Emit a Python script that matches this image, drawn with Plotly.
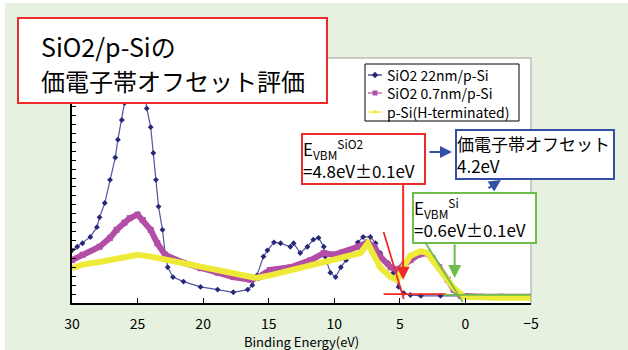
import plotly.graph_objects as go

# ---- data (binding energy in eV, intensity in arbitrary units) ----
e_22nm = [30.0, 29.6, 29.2, 28.6, 28.1, 27.9, 27.5, 27.1, 26.7, 26.5, 26.2, 26.0, 25.72, 25.5, 25.3, 25.1,
          24.9, 24.65, 24.4, 24.3, 24.0, 23.8, 23.6, 23.4, 23.1, 22.9, 22.7, 22.3, 21.5, 20.2, 18.9, 17.7,
          16.6, 16.25, 15.9, 15.4, 15.1, 14.6, 14.1, 13.35, 13.1, 12.6, 12.05, 11.6, 11.2, 10.8, 10.7, 10.3,
          9.9, 9.5, 9.1, 8.75, 8.2, 7.8, 7.25, 6.85, 6.5, 5.9, 5.5, 5.1, 4.7, 4.2, 3.4, 1.9, 0.35, -1.2,
          -2.7, -4.2, -5.0]
i_22nm = [5.9, 6.3, 6.7, 7.4, 8.5, 9.6, 11.2, 13.8, 16.3, 18.3, 20.5, 22.4, 23.1, 25.5, 28.9, 30.6,
          28.9, 26.1, 23.3, 21.8, 19.7, 16.8, 13.8, 10.8, 8.2, 5.6, 4.0, 2.9, 2.4, 1.8, 1.5, 1.2,
          1.5, 2.0, 3.1, 5.2, 5.9, 6.8, 6.7, 6.3, 6.7, 5.6, 6.3, 7.1, 7.3, 6.3, 5.2, 3.4,
          2.9, 4.0, 4.8, 5.9, 6.8, 7.4, 7.4, 6.7, 5.6, 4.5, 3.4, 1.8, 1.1, 0.9, 0.8, 0.8, 0.8, 0.7,
          0.7, 0.7, 0.7]

e_07nm = [30.0, 29.2, 27.9, 27.1, 26.6, 26.0, 25.6, 25.0, 24.6, 24.0, 23.5, 22.9, 21.5, 20.2, 18.9, 17.7,
          16.4, 15.9, 14.9, 13.35, 11.8, 10.8, 10.05, 9.3, 8.2, 7.45, 7.0, 6.5, 5.7, 5.2, 4.7, 4.2,
          3.6, 3.0, 2.5, 2.0, 1.35, 0.9, 0.35, -1.2, -2.7, -5.0]
i_07nm = [4.8, 5.4, 6.3, 7.3, 8.2, 9.0, 9.5, 9.9, 9.3, 8.2, 6.7, 5.4, 4.5, 3.9, 3.4, 2.9,
          2.6, 2.8, 3.7, 4.0, 4.8, 5.6, 5.4, 5.7, 6.3, 6.8, 6.3, 5.2, 4.0, 3.7, 4.3, 4.8,
          5.4, 5.6, 5.0, 4.0, 2.6, 1.5, 0.8, 0.7, 0.7, 0.7]

e_hterm = [30.0, 29.2, 27.9, 26.6, 25.0, 24.0, 22.7, 21.5, 20.2, 18.9, 17.7, 16.4, 15.9, 14.9, 13.35, 11.8,
           10.5, 9.3, 8.0, 7.45, 7.1, 6.5, 5.7, 5.2, 4.7, 4.2, 3.4, 2.9, 2.4, 1.65, 0.9, 0.1, -1.2, -2.7, -5.0]
i_hterm = [3.9, 4.3, 4.6, 5.0, 5.4, 5.2, 4.8, 4.5, 4.0, 3.7, 3.4, 2.9, 2.8, 3.1, 3.7, 4.3,
           4.8, 5.2, 5.6, 6.7, 5.6, 4.0, 2.9, 2.6, 4.1, 5.3, 5.8, 5.6, 4.6, 3.1, 1.7, 0.7, 0.6, 0.6, 0.6]

series_names = ["SiO2 22nm/p-Si", "SiO2 0.7nm/p-Si", "p-Si(H-terminated)"]

# tangent / baseline construction lines (eV, intensity)
red_tangent_e = [6.24, 4.7]
red_tangent_i = [7.95, 0.45]
red_base_e = [6.24, 1.5]
red_base_i = [1.0, 1.0]
green_tangent_e = [3.03, 0.2]
green_tangent_i = [6.7, 0.1]
green_base_e = [1.65, -5.0]
green_base_i = [0.9, 0.9]

vbm_sio2_arrow = (4.75, 2.6)
vbm_si_arrow = (0.82, 2.8)

x_ticks = [30, 25, 20, 15, 10, 5, 0, -5]

FONT = "Noto Sans CJK JP"
NAVY = "#27287a"
MAGENTA = "#b24ea6"
YELLOW = "#eeea38"
RED = "#ee2a2a"
GREEN = "#6cbd4a"
BLUE = "#3450a4"

# page layout: body offset (thin white strip at top/left), plot area in page pixels
OX, OY = 5, 3
PAGE_W, PAGE_H = 628, 350
PL, PR, PT, PB = 72, 531, 58, 303
W, H = PAGE_W - OX, PAGE_H - OY
L, T = PL - OX, PT - OY
R, B = W - (PR - OX), H - (PB - OY)
PW, PH = PR - PL, PB - PT


def px(x):
    return (x - PL) / PW


def py(y):
    return (PB - y) / PH


fig = go.Figure()

fig.add_trace(go.Scatter(x=e_22nm, y=i_22nm, mode="lines+markers", showlegend=False,
                         line=dict(color="#5555a0", width=1.2),
                         marker=dict(symbol="diamond", size=4.5, color=NAVY)))
fig.add_trace(go.Scatter(x=e_07nm, y=i_07nm, mode="lines+markers", showlegend=False,
                         line=dict(color=MAGENTA, width=6),
                         marker=dict(symbol="square", size=6, color=MAGENTA)))
fig.add_trace(go.Scatter(x=e_hterm, y=i_hterm, mode="lines+markers", showlegend=False,
                         line=dict(color=YELLOW, width=6),
                         marker=dict(symbol="triangle-up", size=6, color=YELLOW)))

# construction lines
for xs, ys, col in [(red_tangent_e, red_tangent_i, RED), (red_base_e, red_base_i, RED),
                    (green_tangent_e, green_tangent_i, GREEN), (green_base_e, green_base_i, GREEN)]:
    fig.add_trace(go.Scatter(x=xs, y=ys, mode="lines", showlegend=False,
                             line=dict(color=col, width=1.8)))

# hand-drawn legend on an overlay (paper-like) axis pair
fig.add_trace(go.Scatter(x=[px(365), px(519), px(519), px(365), px(365)],
                         y=[py(64), py(64), py(121), py(121), py(64)],
                         xaxis="x2", yaxis="y2", mode="lines", fill="toself", fillcolor="white",
                         line=dict(color="black", width=1), showlegend=False, hoverinfo="skip"))
legend_rows = [75, 93, 112]
legend_syms = ["diamond", "square", "triangle-up"]
legend_cols = [NAVY, MAGENTA, YELLOW]
for yy, col, sym in zip(legend_rows, legend_cols, legend_syms):
    fig.add_trace(go.Scatter(x=[px(368), px(382)], y=[py(yy), py(yy)], xaxis="x2", yaxis="y2",
                             mode="lines", line=dict(color=col, width=1.2), showlegend=False,
                             hoverinfo="skip"))
    fig.add_trace(go.Scatter(x=[px(375)], y=[py(yy)], xaxis="x2", yaxis="y2", mode="markers",
                             marker=dict(symbol=sym, size=5, color=col), showlegend=False,
                             hoverinfo="skip"))

shapes = [
    dict(type="line", xref="paper", yref="paper", x0=0, x1=1, y0=1, y1=1,
         line=dict(color="#a0a0a0", width=1)),
    dict(type="line", xref="paper", yref="paper", x0=1, x1=1, y0=0, y1=1,
         line=dict(color="#a0a0a0", width=1)),
    dict(type="rect", xref="paper", yref="paper", x0=px(18), x1=px(327), y0=py(103), y1=py(18),
         fillcolor="white", line=dict(color=RED, width=2)),
]

annotations = [
    dict(text="SiO2/p-Siの", xref="paper", yref="paper", x=px(39), y=py(46),
         xanchor="left", yanchor="middle", showarrow=False, font=dict(size=25, color="black")),
    dict(text="価電子帯オフセット評価", xref="paper", yref="paper", x=px(39), y=py(80),
         xanchor="left", yanchor="middle", showarrow=False, font=dict(size=24, color="black")),
    dict(text="Binding Energy(eV)", xref="paper", yref="paper", x=0.5, y=py(341),
         xanchor="center", yanchor="middle", showarrow=False, font=dict(size=13, color="black")),
    dict(text="E<sub>VBM</sub><sup>SiO2</sup><br>=4.8eV±0.1eV", xref="paper", yref="paper",
         x=px(301), y=py(133), xanchor="left", yanchor="top", showarrow=False, align="left",
         bgcolor="white", bordercolor=RED, borderwidth=2, borderpad=0, width=121,
         font=dict(size=17, color="black")),
    dict(text="E<sub>VBM</sub><sup>Si</sup><br>=0.6eV±0.1eV", xref="paper", yref="paper",
         x=px(412), y=py(192), xanchor="left", yanchor="top", showarrow=False, align="left",
         bgcolor="white", bordercolor=GREEN, borderwidth=2, borderpad=0, width=121,
         font=dict(size=17, color="black")),
    dict(text="価電子帯オフセット<br>4.2eV", xref="paper", yref="paper",
         x=px(455), y=py(129), xanchor="left", yanchor="top", showarrow=False, align="left",
         bgcolor="white", bordercolor=BLUE, borderwidth=2, borderpad=0, width=156,
         font=dict(size=17, color="black")),
    dict(text="", x=vbm_sio2_arrow[0], y=vbm_sio2_arrow[1], xref="x", yref="y",
         showarrow=True, ax=0, ay=-97, arrowhead=2, arrowsize=1.3, arrowwidth=2, arrowcolor=RED),
    dict(text="", x=vbm_si_arrow[0], y=vbm_si_arrow[1], xref="x", yref="y",
         showarrow=True, ax=0, ay=-35, arrowhead=2, arrowsize=1.3, arrowwidth=2, arrowcolor=GREEN),
    dict(text="", x=px(452), y=py(152), xref="paper", yref="paper",
         showarrow=True, ax=-24, ay=0, arrowhead=2, arrowsize=1.2, arrowwidth=2, arrowcolor=BLUE),
    dict(text="", x=px(501), y=py(180), xref="paper", yref="paper",
         showarrow=True, ax=-14, ay=9, arrowhead=2, arrowsize=1.2, arrowwidth=2, arrowcolor=BLUE),
]
for yy, name in zip(legend_rows, series_names):
    annotations.append(dict(text=name, xref="paper", yref="paper", x=px(385), y=py(yy),
                            xanchor="left", yanchor="middle", showarrow=False,
                            font=dict(size=14, color="black")))

fig.update_layout(
    width=W, height=H,
    margin=dict(l=L, r=R, t=T, b=B, pad=0),
    paper_bgcolor="#e6f1e0",
    plot_bgcolor="white",
    font=dict(family=FONT, color="black"),
    showlegend=False,
    shapes=shapes,
    annotations=annotations,
    xaxis=dict(range=[30, -5], tickvals=x_ticks,
               ticktext=[str(t) if t >= 0 else "−" + str(-t) for t in x_ticks],
               ticks="inside", ticklen=5, tickcolor="black",
               showline=True, linecolor="black", linewidth=1.5, showgrid=False, zeroline=False,
               tickfont=dict(size=14, color="black"), ticklabelstandoff=7),
    yaxis=dict(range=[0, 27.45], dtick=1, tick0=0, ticks="inside", ticklen=4, tickcolor="black",
               showticklabels=False, showline=True, linecolor="black", linewidth=1.5,
               showgrid=False, zeroline=False),
    xaxis2=dict(overlaying="x", range=[0, 1], visible=False, fixedrange=True),
    yaxis2=dict(overlaying="y", range=[0, 1], visible=False, fixedrange=True),
)

fig.write_html("out.html", post_script="document.body.style.margin='%dpx 0 0 %dpx';" % (OY, OX))
